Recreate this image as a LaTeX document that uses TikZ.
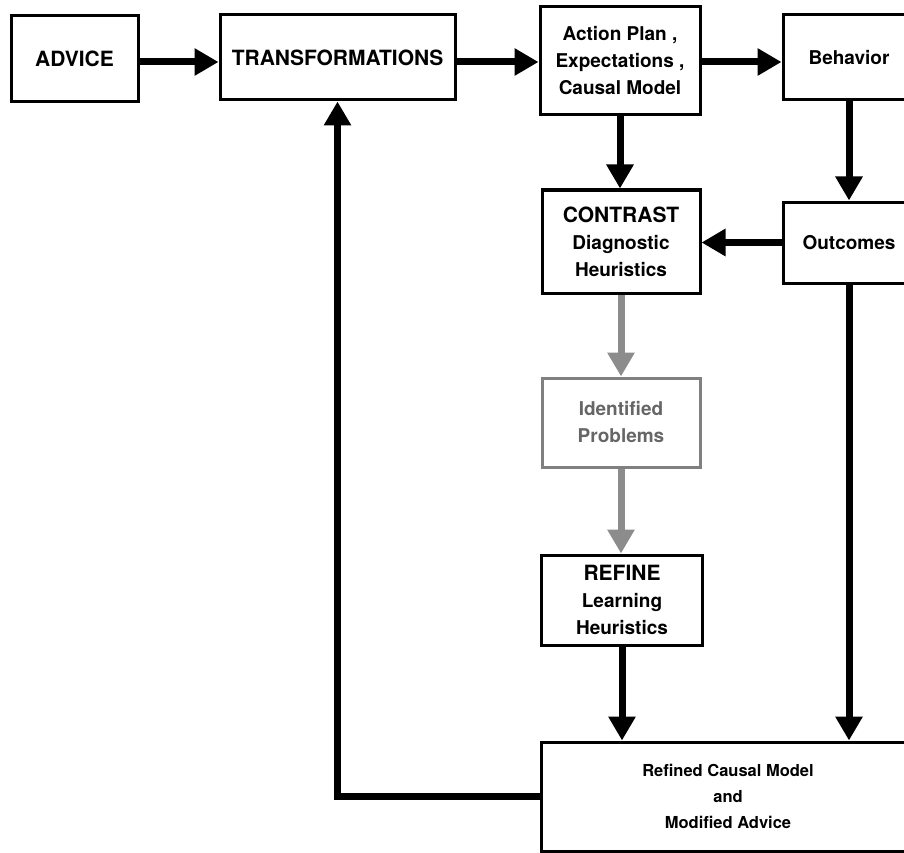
\documentclass[tikz,border=0pt]{standalone}
\usepackage{fontspec}
\setmainfont{TeX Gyre Heros}
\usetikzlibrary{arrows.meta}
\newcommand{\capline}[1]{{\fontsize{21}{27}\selectfont #1}}

\begin{document}
\begin{tikzpicture}[x=1pt,y=-1pt,
  box/.style={draw,line width=3pt,align=center,inner sep=0pt,
    font=\bfseries\fontsize{19}{27}\selectfont},
  flow/.style={line width=7pt,-{Triangle[length=24pt,width=26pt]}},
  faint/.style={draw=black!50,text=black!60}]
\useasboundingbox (0,0) rectangle (904,853);
\clip (0,0) rectangle (904,853);
% top row
\node[box,minimum width=127pt,minimum height=86pt] (adv) at (74.5,59) {\capline{ADVICE}};
\node[box,minimum width=235pt,minimum height=85pt] (trans) at (337.5,57.5) {\capline{TRANSFORMATIONS}};
\node[box,minimum width=160pt,minimum height=108pt] (plan) at (620,61) {Action Plan ,\\Expectations ,\\Causal Model};
\node[box,minimum width=132pt,minimum height=85pt] (beh) at (849,57.5) {Behavior};
% middle column
\node[box,minimum width=158pt,minimum height=103pt] (con) at (621,241.5) {\capline{CONTRAST}\\Diagnostic\\Heuristics};
\node[box,minimum width=132pt,minimum height=81pt] (out) at (849,242.5) {Outcomes};
\node[box,faint,minimum width=158pt,minimum height=89pt] (prob) at (621,422.5) {Identified\\Problems};
\node[box,minimum width=161pt,minimum height=90pt] (refn) at (622,600) {\capline{REFINE}\\Learning\\Heuristics};
% bottom
\node[box,minimum width=374pt,minimum height=109pt,
  font=\bfseries\fontsize{16.5}{26}\selectfont] (res) at (728,796.5) {Refined Causal Model\\and\\Modified Advice};
% arrows
\draw[flow] (adv.east |- 0,62) -- (trans.west |- 0,62);
\draw[flow] (trans.east |- 0,62) -- (plan.west |- 0,62);
\draw[flow] (plan.east |- 0,62) -- (beh.west |- 0,62);
\draw[flow] (plan.south) -- (plan.south |- con.north);
\draw[flow] (beh.south) -- (beh.south |- out.north);
\draw[flow] (out.west) -- (out.west -| con.east);
\draw[flow,black!45] (con.south) -- (con.south |- prob.north);
\draw[flow,black!45] (prob.south) -- (prob.south |- refn.north);
\draw[flow] (refn.south) -- (refn.south |- res.north);
\draw[flow] (out.south) -- (out.south |- res.north);
\draw[flow] (res.west) -| (trans.south);
\end{tikzpicture}
\end{document}
